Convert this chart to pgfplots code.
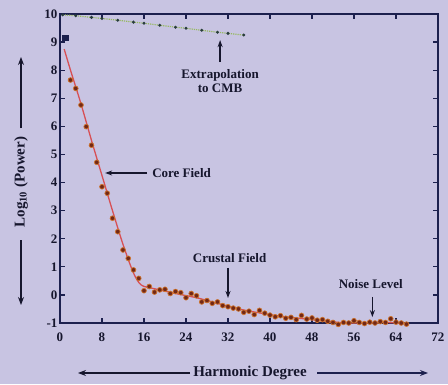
\documentclass[border=0pt]{standalone}
\usepackage{pgfplots}
\pgfplotsset{compat=1.18}
\usetikzlibrary{arrows.meta}
\usepackage{fontspec}
\setmainfont{Liberation Serif}
\definecolor{bg}{RGB}{200,196,226}
\definecolor{ax}{RGB}{28,32,78}
\definecolor{txt}{RGB}{22,22,45}
\definecolor{dot}{RGB}{115,40,22}
\definecolor{dotedge}{RGB}{205,115,45}
\definecolor{fit}{RGB}{215,80,85}
\definecolor{ext}{RGB}{150,185,95}
\definecolor{extdot}{RGB}{40,60,60}

\pgfplotstableread{
n v
1 9.15
2 7.65
3 7.35
4 6.76
5 5.99
6 5.33
7 4.72
8 3.85
9 3.62
10 2.73
11 2.25
12 1.60
13 1.30
14 0.89
15 0.59
16 0.15
17 0.30
18 0.10
19 0.18
20 0.20
21 0.05
22 0.12
23 0.08
24 -0.10
25 0.05
26 -0.03
27 -0.25
28 -0.20
29 -0.30
30 -0.25
31 -0.38
32 -0.42
33 -0.47
34 -0.50
35 -0.62
36 -0.58
37 -0.70
38 -0.55
39 -0.65
40 -0.72
41 -0.78
42 -0.74
43 -0.83
44 -0.80
45 -0.88
46 -0.73
47 -0.86
48 -0.82
49 -0.90
50 -0.88
51 -0.94
52 -0.98
53 -1.05
54 -0.98
55 -1.00
56 -0.92
57 -0.98
58 -1.02
59 -0.97
60 -1.00
61 -0.95
62 -0.98
63 -0.85
64 -0.97
65 -1.00
66 -1.04
}\spectrum

\pgfplotstableread{
n v
0.8 8.75
2 8.00
4 6.80
6 5.50
8 4.25
10 3.00
12 1.80
14 0.78
15.5 0.35
18 0.22
22 0.05
26 -0.10
30 -0.30
34 -0.50
38 -0.64
42 -0.76
46 -0.84
50 -0.92
54 -0.99
58 -1.00
62 -0.98
66 -1.03
}\fitline

\pgfplotstableread{
n v
0.5 9.97
3 9.94
6 9.88
8 9.84
11 9.78
14 9.71
16 9.67
19 9.60
22 9.53
24 9.49
27 9.42
30 9.35
32 9.31
35 9.25
}\extrap

\begin{document}
\begin{tikzpicture}[x=1pt,y=1pt]
\useasboundingbox (0,0) rectangle (448,384);
\fill[bg] (0,0) rectangle (448,384);
\begin{axis}[at={(60pt,61pt)}, anchor=south west, scale only axis,
  width=378pt, height=309pt,
  xmin=0, xmax=72, ymin=-1, ymax=10,
  xtick={0,8,...,72}, ytick={-1,0,...,10},
  tick align=inside, major tick length=5pt,
  axis line style={ax, line width=1.6pt},
  tick style={ax, line width=1.2pt},
  ticklabel style={font=\fontsize{13}{13}\selectfont\bfseries, text=txt},
  /pgf/number format/assume math mode=true,
  xticklabel style={yshift=-6pt},
  yticklabel style={xshift=1pt},
  clip=false]
  % extrapolation to CMB
  \addplot[ext, line width=1.2pt, densely dotted, mark=*, mark size=0.8pt,
    mark options={solid, fill=extdot, draw=extdot}] table[x=n,y=v] {\extrap};
  % fit line
  \addplot[fit, line width=1.3pt, smooth] table[x=n,y=v] {\fitline};
  % spectrum points
  \addplot[only marks, mark=*, mark size=2.4pt,
    mark options={fill=dot, draw=dotedge, line width=0.7pt}]
    table[x=n,y=v] {\spectrum};
  \addplot[only marks, mark=square*, mark size=2.6pt,
    mark options={fill=ax, draw=ax}] coordinates {(1,9.15)};

  % annotations
  \node[font=\fontsize{13}{14}\selectfont\bfseries, text=txt, align=center]
    at (axis cs:30.5,7.6) {Extrapolation\\to CMB};
  \draw[txt, line width=1.3pt, -{Stealth[length=7pt,width=5pt]}]
    (axis cs:30.5,8.29) -- (axis cs:30.5,9.07);
  \node[font=\fontsize{13}{14}\selectfont\bfseries, text=txt, anchor=west]
    at (axis cs:16.9,4.34) {Core Field};
  \draw[txt, line width=1.3pt, -{Stealth[length=7pt,width=5pt]}]
    (axis cs:16.6,4.34) -- (axis cs:8.6,4.34);
  \node[font=\fontsize{13}{14}\selectfont\bfseries, text=txt]
    at (axis cs:32.3,1.31) {Crustal Field};
  \draw[txt, line width=1.3pt, -{Stealth[length=7pt,width=5pt]}]
    (axis cs:32,0.96) -- (axis cs:32,-0.11);
  \node[font=\fontsize{13}{14}\selectfont\bfseries, text=txt]
    at (axis cs:59.2,0.39) {Noise Level};
  \draw[txt, line width=1.3pt, -{Stealth[length=7pt,width=5pt]}]
    (axis cs:59.5,-0.07) -- (axis cs:59.5,-0.79);
\end{axis}
% y label with arrows
\node[rotate=90, font=\fontsize{15}{15}\selectfont\bfseries, text=txt]
  at (21,202) {Log\textsubscript{10} (Power)};
\draw[txt, line width=1.3pt, -{Stealth[length=8pt,width=6pt]}] (21,256) -- (21,327);
\draw[txt, line width=1.3pt, -{Stealth[length=8pt,width=6pt]}] (21,144) -- (21,79);
% x label with arrows
\node[font=\fontsize{15}{15}\selectfont\bfseries, text=txt]
  at (250,11) {Harmonic Degree};
\draw[txt, line width=1.3pt, -{Stealth[length=8pt,width=6pt]}] (190,11) -- (78,11);
\draw[ax, line width=1.3pt, -{Stealth[length=8pt,width=6pt]}] (317,11) -- (428,11);
\end{tikzpicture}
\end{document}
